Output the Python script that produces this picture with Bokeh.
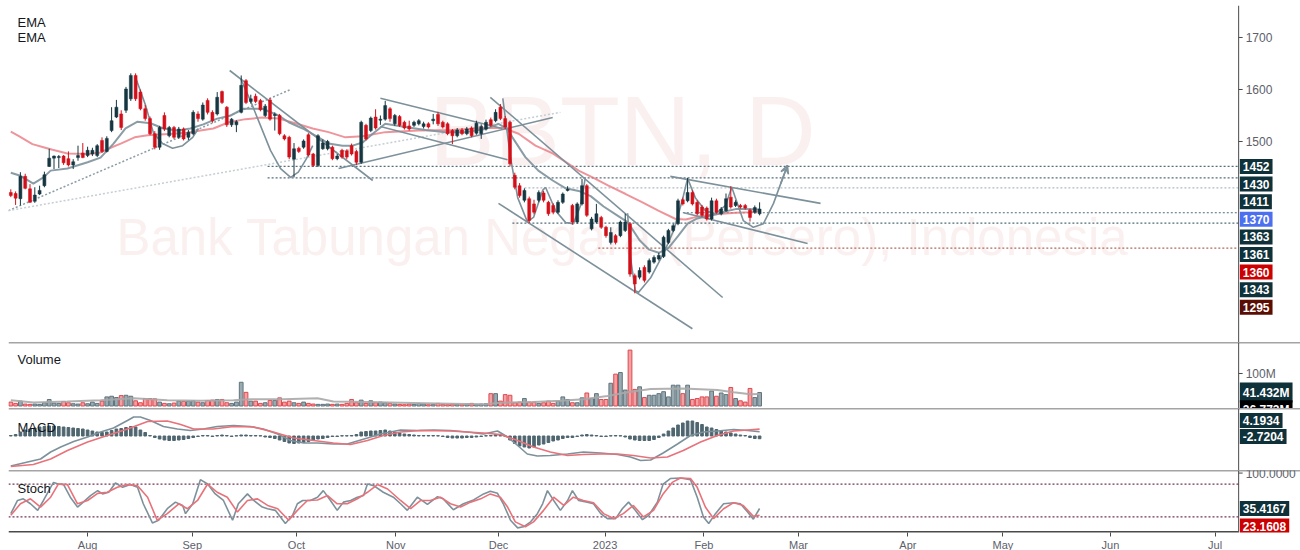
from bokeh.plotting import figure
from bokeh.models import Range1d, FixedTicker, Label, Span, Arrow, VeeHead, ColumnDataSource
from bokeh.core.properties import value
from bokeh.layouts import column
from bokeh.embed import file_html
from bokeh.resources import INLINE

FONT = "Liberation Sans"

# ---------------- data (bar index = trading day) ----------------
opens = [1402, 1400, 1390, 1433, 1409, 1385, 1399, 1415, 1452, 1468,
         1469, 1472, 1467, 1455, 1469, 1478, 1473, 1476, 1473, 1502,
         1481, 1521, 1547, 1553, 1560, 1582, 1627, 1595, 1563, 1544,
         1515, 1489, 1550, 1511, 1527, 1508, 1524, 1508, 1515, 1553,
         1543, 1579, 1556, 1553, 1596, 1566, 1532, 1532, 1556, 1617,
         1577, 1587, 1579, 1550, 1580, 1550, 1550, 1511, 1508, 1466,
         1487, 1489, 1513, 1476, 1454, 1486, 1486, 1489, 1467, 1483,
         1482, 1492, 1481, 1460, 1531, 1521, 1547, 1541, 1543, 1563,
         1534, 1548, 1537, 1530, 1531, 1534, 1529, 1534, 1540, 1552,
         1537, 1534, 1521, 1511, 1522, 1515, 1526, 1516, 1515, 1524,
         1542, 1540, 1566, 1544, 1537, 1435, 1415, 1387, 1390, 1380,
         1387, 1401, 1383, 1377, 1364, 1383, 1406, 1377, 1345, 1380,
         1415, 1332, 1345, 1354, 1335, 1306, 1319, 1319, 1329, 1342,
         1242, 1239, 1258, 1249, 1268, 1274, 1279, 1306, 1329, 1342,
         1388, 1386, 1402, 1383, 1374, 1372, 1351, 1386, 1361, 1367,
         1393, 1377, 1377, 1377, 1368, 1364, 1361]
highs = [1408, 1404, 1441, 1438, 1418, 1412, 1415, 1442, 1486, 1473,
         1474, 1474, 1481, 1466, 1492, 1497, 1490, 1488, 1495, 1508,
         1510, 1566, 1580, 1560, 1605, 1631, 1631, 1600, 1570, 1548,
         1520, 1530, 1556, 1530, 1530, 1528, 1527, 1522, 1560, 1558,
         1575, 1583, 1560, 1595, 1598, 1568, 1545, 1541, 1627, 1620,
         1590, 1592, 1582, 1572, 1584, 1556, 1553, 1514, 1511, 1497,
         1490, 1504, 1516, 1478, 1514, 1504, 1503, 1492, 1476, 1486,
         1485, 1496, 1484, 1540, 1534, 1548, 1562, 1550, 1578, 1566,
         1553, 1551, 1540, 1540, 1540, 1543, 1538, 1537, 1553, 1557,
         1540, 1537, 1524, 1526, 1526, 1528, 1529, 1540, 1533, 1542,
         1546, 1562, 1572, 1549, 1540, 1440, 1420, 1410, 1394, 1388,
         1406, 1405, 1386, 1381, 1387, 1402, 1414, 1380, 1383, 1428,
         1418, 1355, 1380, 1357, 1338, 1335, 1322, 1348, 1361, 1345,
         1246, 1258, 1262, 1275, 1281, 1286, 1319, 1332, 1342, 1390,
         1392, 1430, 1406, 1387, 1378, 1375, 1392, 1390, 1374, 1400,
         1414, 1387, 1380, 1380, 1371, 1377, 1383]
lows = [1393, 1378, 1377, 1408, 1382, 1382, 1397, 1412, 1451, 1447,
        1449, 1455, 1452, 1447, 1463, 1468, 1470, 1472, 1470, 1478,
        1479, 1518, 1545, 1522, 1555, 1578, 1578, 1560, 1540, 1512,
        1485, 1484, 1520, 1508, 1505, 1505, 1502, 1503, 1512, 1538,
        1540, 1552, 1536, 1550, 1572, 1528, 1528, 1518, 1554, 1572,
        1573, 1574, 1558, 1547, 1540, 1521, 1512, 1502, 1466, 1431,
        1478, 1486, 1471, 1451, 1451, 1484, 1483, 1464, 1464, 1467,
        1466, 1473, 1455, 1457, 1502, 1518, 1523, 1532, 1540, 1538,
        1530, 1528, 1523, 1521, 1528, 1531, 1525, 1525, 1533, 1530,
        1525, 1512, 1495, 1508, 1512, 1512, 1508, 1513, 1505, 1521,
        1528, 1537, 1541, 1524, 1452, 1408, 1392, 1383, 1343, 1360,
        1383, 1383, 1357, 1360, 1361, 1380, 1404, 1340, 1342, 1377,
        1355, 1329, 1342, 1332, 1315, 1302, 1302, 1316, 1326, 1240,
        1208, 1235, 1229, 1246, 1265, 1271, 1276, 1303, 1326, 1339,
        1377, 1383, 1377, 1358, 1355, 1348, 1348, 1361, 1358, 1364,
        1371, 1374, 1371, 1369, 1346, 1361, 1358]
closes = [1396, 1391, 1433, 1410, 1383, 1397, 1406, 1436, 1468, 1472,
          1471, 1459, 1455, 1461, 1473, 1469, 1483, 1483, 1492, 1481,
          1506, 1540, 1566, 1527, 1601, 1627, 1582, 1563, 1544, 1515,
          1489, 1527, 1524, 1527, 1508, 1524, 1505, 1518, 1556, 1544,
          1570, 1556, 1540, 1585, 1575, 1532, 1543, 1538, 1608, 1575,
          1582, 1577, 1561, 1568, 1543, 1552, 1515, 1505, 1470, 1486,
          1481, 1501, 1474, 1454, 1511, 1497, 1500, 1467, 1472, 1470,
          1470, 1476, 1460, 1537, 1505, 1545, 1526, 1543, 1569, 1544,
          1550, 1531, 1526, 1524, 1537, 1540, 1534, 1528, 1543, 1534,
          1528, 1515, 1511, 1522, 1515, 1524, 1511, 1535, 1529, 1537,
          1531, 1556, 1544, 1528, 1457, 1412, 1396, 1406, 1348, 1364,
          1402, 1387, 1361, 1364, 1383, 1399, 1408, 1345, 1380, 1415,
          1358, 1351, 1361, 1335, 1319, 1325, 1306, 1345, 1345, 1245,
          1226, 1252, 1233, 1271, 1277, 1281, 1316, 1329, 1338, 1386,
          1380, 1402, 1380, 1361, 1358, 1351, 1386, 1364, 1370, 1390,
          1374, 1383, 1374, 1372, 1354, 1373, 1370]
volumes_m = [12, 8, 15, 6, 5, 6, 5, 10, 20, 9,
             8, 14, 10, 7, 6, 10, 7, 12, 8, 15,
             28, 30, 26, 32, 33, 30, 16, 10, 23, 23,
             22, 12, 8, 7, 9, 15, 14, 15, 16, 12,
             10, 17, 18, 20, 20, 10, 8, 12, 73, 42,
             15, 15, 8, 10, 17, 17, 25, 12, 15, 10,
             8, 12, 8, 6, 5, 5, 6, 5, 6, 5,
             8, 20, 10, 18, 8, 16, 10, 12, 10, 8,
             6, 5, 4, 6, 5, 8, 6, 4, 5, 8,
             5, 4, 6, 5, 4, 6, 8, 5, 6, 7,
             38, 38, 15, 35, 33, 10, 12, 23, 12, 12,
             8, 10, 15, 8, 15, 28, 20, 10, 10, 25,
             40, 23, 38, 20, 20, 70, 98, 103, 49, 172,
             51, 59, 26, 33, 33, 38, 44, 28, 64, 64,
             38, 64, 20, 23, 28, 28, 46, 30, 40, 35,
             57, 23, 16, 12, 54, 26, 41.432]
macd_hist = [0.5, 1.5, 4, 6, 7, 8, 9, 9.5, 10, 10,
             9.5, 9, 8.5, 8, 7.5, 7, 6, 5, 4, 3.5,
             4, 5.5, 7, 7.5, 8.5, 9.5, 9, 6, 3.5, 0.5,
             -1.5, -3, -4, -4.5, -4.5, -4, -3.5, -2.5, -1.5, -0.5,
             0.5, 0.5, -0.5, 0.5, 1, 0.5, -0.5, 0.3, 1, 1,
             0.5, 0.5, 0.3, -1, -1.5, -2.5, -4, -5.5, -7, -7.5,
             -7, -6.5, -5.5, -4.5, -3, -2.5, -1.5, -0.5, -0.5, 0.3,
             0.3, 0.5, 1.5, 4, 4.5, 5, 5, 5.5, 6, 5,
             4, 3, 2, 1.5, 1, 0.5, 0.5, 0.5, 0.5, 0.3,
             -0.5, -1.5, -2, -2, -2, -1.5, -1.5, -1, -0.5, 0.3,
             0.5, 1.5, 1.5, -0.3, -4, -7.5, -10, -11, -12, -11,
             -9, -8, -6.5, -5, -4, -2.5, -1.5, -1.5, -0.5, 1,
             1.5, 1, 0.5, -0.5, -0.5, 0.3, 0.5, 0.3, -1, -3,
             -4, -4.5, -4.5, -4.5, -3.5, -1.5, 2, 5, 8, 11,
             13, 15, 15, 13.5, 11.5, 9, 8, 6.5, 5, 4,
             3, 2, 1, 0.5, -1.5, -2.5, -2.7204]

ema_slow_x = [0, 1.6, 4.5, 6.8, 8.7, 11.8, 16.2, 18.7, 20.8, 22.9, 25.8, 28.5, 33.7, 36.8, 39.5, 42.2,
              45.4, 48.9, 52.4, 55.8, 59.3, 62.9, 66.2, 69.7, 73.3, 78, 84.9, 92, 98.9, 102.6, 105.8,
              109.3, 112.9, 116.2, 118.3, 121.2, 124.5, 128.1, 131.6, 134.9, 138.5, 140.6, 143.3,
              146.8, 151, 153.7, 156]
ema_slow_y = [1519, 1511, 1495, 1489, 1484, 1477, 1476, 1479, 1488, 1496, 1508, 1512, 1515, 1517, 1521, 1525,
              1537, 1543, 1546, 1544, 1535, 1525, 1518, 1508, 1510, 1518, 1521, 1522, 1526, 1526, 1515,
              1492, 1477, 1457, 1444, 1431, 1415, 1399, 1383, 1367, 1351, 1350, 1356,
              1360, 1363, 1364, 1366]
ema_fast_x = [0, 2, 4.7, 6.8, 8.3, 11.8, 16, 18.7, 21.4, 23.9, 26.4, 29.1, 31.8, 34.7, 37.4, 40.1, 43,
              45.8, 48.5, 50.6, 52.4, 55.8, 57.9, 60.8, 64.1, 66.2, 69.1, 71.2, 73.3, 75.4, 78, 82.2,
              86.4, 90.6, 94.7, 98.9, 101.6, 103.5, 104.5, 107.2, 109.9, 112.9, 115.6, 118.3, 120.8,
              123.5, 126, 128.5, 131, 133, 135, 137, 139, 141, 143, 145, 147, 149, 151, 153, 156]
ema_fast_y = [1440, 1434, 1419, 1431, 1444, 1448, 1460, 1469, 1496, 1525, 1538, 1535, 1525, 1521, 1525, 1533, 1544,
              1550, 1563, 1563, 1563, 1550, 1537, 1525, 1508, 1496, 1492, 1492, 1498, 1515, 1534, 1528,
              1522, 1518, 1518, 1524, 1534, 1524, 1508, 1470, 1444, 1425, 1410, 1405, 1395,
              1375, 1360, 1345, 1310, 1292, 1286, 1295, 1318, 1342, 1352, 1356, 1360, 1366, 1370, 1370, 1369]

vma_x = [0, 4.7, 11.8, 18.7, 25.6, 32.6, 39.5, 46.4, 49.9, 56.8, 63.9, 67.2, 74.3, 81.2, 91.6, 98.5, 102,
         108.9, 114.5, 119.3, 124.3, 128.5, 133.3, 140.1, 147.2, 150.6, 154.1, 156]
vma_y = [18, 11, 14, 18, 24, 18, 16, 18, 21, 21, 24, 14, 12, 10, 7, 5, 10,
         12, 16, 21, 31, 42, 52, 54, 49, 42, 36, 36.773]

macd_x = [0, 3.5, 6.2, 8.3, 10.4, 13.1, 16, 18.7, 21.4, 24.3, 25.6, 27, 29.1, 31.8, 34.7, 37.4, 40.1, 43,
          46.4, 49.9, 52.6, 55.6, 58.3, 61, 63.9, 67.2, 70.1, 72.2, 74.3, 77, 81.2, 84.7, 88.1, 91.6, 95.1,
          98.5, 101.4, 103.5, 105.6, 107.6, 109.7, 112.4, 116, 119.3, 122.9, 126.4, 129.1, 131.2, 133.3,
          135.9, 138.9, 141.6, 144.3, 147.2, 150.6, 153.5, 156]
macd_y = [-30, -26, -23, -16, -11, -5.5, -1, 4, 8, 15.5, 19, 19, 15.5, 9.5, 7, 5.5, 7, 9.5,
          10.5, 9.5, 7, 2, -4.5, -7, -7, -8, -8, -5, -2, 2, 6, 5.5, 6, 5.5, 4,
          2, 5, -1, -9.5, -18, -20, -19.5, -18, -16, -17, -18.5, -21, -24.5, -24,
          -17, -8, 0.5, 4, 5, 6.5, 5.5, 4.1934]
signal_x = [0, 4.7, 8.3, 11.8, 16, 20.1, 24.3, 28.5, 32.6, 35.4, 38.1, 42.2, 46.4, 50.6, 54.7, 58.9, 63.1,
            67.2, 70.8, 74.3, 77.6, 81.2, 85.4, 91.6, 98.5, 102, 105.6, 108.9, 112.4, 116, 119.3, 122.9,
            126.4, 129.7, 133.3, 136.8, 140.1, 143.7, 147.2, 150.6, 153.5, 156]
signal_y = [-30.5, -28.5, -23, -14.5, -6, 0.5, 7, 14.5, 15, 11.5, 7, 7, 9.5, 9, 4, -2, -4.5,
            -7, -8.5, -4.5, 0.5, 4, 5.5, 5, 3, 1.5, -4.5, -11, -16, -19.5, -18.5, -18,
            -18, -19.5, -22, -21, -14.5, -6, 0.5, 5, 6, 6.9]

stoch_k_x = [0, 1.4, 2.6, 4.1, 5.6, 6.8, 8.3, 8.9, 9.9, 11,
             12.4, 13.9, 15.1, 16.6, 18.1, 19.1, 20.4, 21.8, 23.3, 24.9,
             26.4, 27.6, 29.5, 30.8, 32.6, 34.3, 35.8, 36.4, 37.9, 39.5,
             41, 42.6, 44.3, 46.2, 47.4, 49.3, 50.6, 52.4, 53.5, 55.1,
             57.2, 58.7, 59.7, 60.8, 62.4, 63.9, 65.1, 66.6, 68, 69.3,
             70.8, 72.2, 73.5, 74.3, 75.6, 77.6, 79.7, 81.2, 82.6, 84.7,
             86.8, 88.9, 90.1, 92.2, 94.3, 96.4, 98.5, 99.9, 101.4, 102.6,
             104.1, 105.6, 106.8, 108.3, 109.7, 110.8, 111.8, 113.1, 114.5, 116,
             117, 118.3, 120.1, 121.4, 122.9, 124.3, 126, 127.4, 128.7, 130.1,
             131.6, 132.9, 134.7, 135.9, 137.4, 139.5, 141.6, 143, 144.3, 145.4,
             146.8, 148.5, 150.6, 152, 153.5, 154.7, 156]
stoch_k_y = [26, 50, 53, 44, 32, 50, 74, 83, 80, 79,
             56, 38, 47, 59, 68, 62, 65, 82, 74, 79,
             74, 44, 9, 14, 35, 47, 41, 26, 44, 88,
             80, 62, 50, 14, 44, 62, 50, 38, 35, 32,
             8, 23, 44, 50, 50, 56, 68, 50, 32, 47,
             50, 56, 59, 80, 77, 65, 56, 44, 32, 56,
             43, 57, 53, 33, 44, 51, 62, 67, 63, 44,
             14, 0, 2, 11, 26, 44, 68, 50, 32, 50,
             68, 50, 47, 44, 26, 17, 17, 35, 47, 32,
             15, 23, 47, 80, 90, 91, 88, 56, 20, 8,
             26, 44, 46, 44, 29, 16, 35.4167]
stoch_d_x = [0, 2, 4.1, 6.2, 8.3, 9.9, 11.8, 13.9, 16, 18.1,
             20.1, 22.2, 24.3, 26.4, 28.5, 30.5, 32.6, 35, 36.8, 38.9,
             41, 43, 45.1, 47.2, 49.3, 51.4, 53.5, 55.6, 57.9, 59.7,
             61.8, 63.9, 66, 68, 70.1, 72.2, 74.3, 76.4, 78.5, 81.2,
             83.3, 85.4, 87.4, 89.5, 91.6, 93.7, 95.8, 97.9, 99.9, 102,
             103.5, 105.1, 107.2, 108.9, 111, 113.1, 115.2, 117.2, 119.3, 121.4,
             123.5, 125.6, 127.6, 129.7, 131.8, 133.9, 135.9, 137.8, 139.5, 141.6,
             143, 144.7, 146.4, 148.5, 150.6, 152.6, 154.7, 156]
stoch_d_y = [23, 44, 53, 38, 56, 80, 79, 44, 50, 63,
             65, 74, 79, 77, 56, 14, 26, 44, 35, 50,
             80, 65, 56, 29, 50, 53, 41, 35, 14, 32,
             50, 51, 59, 44, 44, 53, 65, 79, 71, 50,
             35, 50, 50, 56, 44, 38, 47, 53, 62, 56,
             38, 11, 2, 11, 32, 56, 41, 56, 50, 46,
             26, 17, 26, 41, 20, 32, 62, 83, 91, 90,
             74, 38, 17, 35, 46, 41, 21, 23.1608]

trend_x0 = [45.6, 77.0, 68.3, 77.0, 99.9, 101.6, 137.4, 140.2]
trend_y0 = [1636.5, 1583, 1448, 1529, 1585, 1381, 1433, 1363]
trend_x1 = [75.4, 102.4, 112.9, 103.5, 148.3, 142.0, 168.7, 166.0]
trend_y1 = [1425, 1525, 1546, 1465, 1200, 1140, 1381, 1304]
dot_trend_x0 = [-0.5, -0.5]
dot_trend_y0 = [1367, 1367]
dot_trend_x1 = [58.3, 114.5]
dot_trend_y1 = [1600, 1556]

arc1_x = [26.0, 28.1, 29.7, 31.6, 33.7, 35.8, 37.9, 39.1]
arc1_y = [1623, 1569, 1517, 1496, 1487, 1492, 1508, 1525]
arc2_x = [47.9, 49.9, 52.0, 54.1, 56.2, 58.3, 59.9, 61.6, 62.9]
arc2_y = [1621, 1579, 1531, 1483, 1448, 1431, 1441, 1467, 1492]
arc3_x = [102.5, 104.1, 105.6, 107.6, 108.9, 110.8, 111.4]
arc3_y = [1583, 1469, 1392, 1346, 1354, 1406, 1412]
arc4_x = [111.4, 113.5, 115.6, 117.2, 118.7, 119.7]
arc4_y = [1412, 1367, 1344, 1342, 1377, 1431]
arc5_x = [128.5, 129.1, 130.1, 130.8, 133.3, 136.0, 138.1, 139.9, 141.0]
arc5_y = [1362, 1277, 1213, 1210, 1238, 1285, 1329, 1387, 1429]
arc6_x = [141.0, 142.6, 144.7, 146.8, 148.9, 150.2]
arc6_y = [1429, 1392, 1367, 1361, 1377, 1412]
arc7_x = [150.2, 152.6, 154.7, 156.8, 158.9, 160.4, 161.8]
arc7_y = [1412, 1348, 1335, 1342, 1381, 1419, 1454]

level_price = [1452, 1430, 1411, 1363, 1343, 1295]
level_start = [53.5, 53.5, 107, 140, 104.5, 122.4]

price_ticks = [1500, 1600, 1700]
price_labels = ["1452", "1430", "1411", "1370", "1363", "1361", "1360", "1343", "1295"]
price_label_vals = [1452, 1430, 1411, 1370, 1363, 1361, 1360, 1343, 1295]
volume_ticks = [100]
volume_tick_labels = ["100M"]
stoch_ticks = [100]
stoch_tick_labels = ["100.0000"]

month_pos = [16, 37.8, 59.5, 80.2, 101.6, 123.8, 144.4, 164.1, 186.9, 206.7, 229.1, 250.9]
month_names = ["Aug", "Sep", "Oct", "Nov", "Dec", "2023", "Feb", "Mar", "Apr", "May", "Jun", "Jul"]

# ---------------- styling / layout ----------------
UP = "#163741"
DN = "#d3101a"
GREY = "#7d919b"
REDL = "#e8727a"
AXC = "#4a4a4a"
DARKBOX = "#0f3139"
PX_PER_BAR = 4.8
X0 = -0.48
AX_X = 255.8           # price-scale line position (bar units)
FRAME_W = 1292

n = len(closes)
idx = list(range(n))
is_up = [c >= o for o, c in zip(opens, closes)]
src = ColumnDataSource(dict(
    x=idx, o=opens, h=highs, l=lows, c=closes,
    top=[max(o, c) for o, c in zip(opens, closes)],
    bot=[min(o, c) for o, c in zip(opens, closes)],
    col=[UP if u else DN for u in is_up],
    vol=volumes_m,
    vfill=["#9aaab1" if u else "#f2a1a4" for u in is_up],
    vline=["#5f737c" if u else "#e0484f" for u in is_up],
    hist=macd_hist,
))

xr = Range1d(X0, X0 + FRAME_W / PX_PER_BAR)


def make_fig(h, yr, top=0, xloc=None):
    p = figure(frame_width=FRAME_W, frame_height=h, x_range=xr, y_range=yr,
               y_axis_location=None, x_axis_location=xloc,
               toolbar_location=None, output_backend="svg",
               min_border=0, min_border_left=8, min_border_right=0,
               min_border_top=top, min_border_bottom=0,
               outline_line_color=None, background_fill_color="white",
               border_fill_color="white")
    p.grid.visible = False
    p.add_layout(Span(location=AX_X, dimension="height", line_color=AXC, line_width=1))
    return p


def scale_ticks(p, ticks, labels):
    p.segment(x0=[AX_X] * len(ticks), y0=ticks, x1=[AX_X + 4 / PX_PER_BAR] * len(ticks), y1=ticks,
              line_color=AXC, line_width=1)
    p.text(x=[AX_X + 7 / PX_PER_BAR] * len(ticks), y=ticks, text=labels,
           text_font=value(FONT), text_font_size="12px", text_color="#5d606b",
           text_baseline="middle", text_align="left")


def title(p, text, y):
    p.add_layout(Label(x=9, y=y, x_units="screen", y_units="screen", text=text,
                       text_font=FONT, text_font_size="13px", text_color="#131722",
                       text_baseline="middle"))


def box(p, y, text, bg):
    p.add_layout(Label(x=AX_X + 1.2 / PX_PER_BAR, y=y, x_units="data", y_units="data", text=text,
                       text_font=FONT, text_font_size="12px", text_font_style="bold",
                       text_color="white", text_baseline="middle", text_align="left",
                       background_fill_color=bg, padding=3))


def stacked(vals, gap):
    out = []
    for v in vals:
        out.append(v if not out else min(v, out[-1] - gap))
    return out


# ---------------- price panel ----------------
p1 = make_fig(337, Range1d(1113.5, 1761.5), top=5)

for txt, yy, fs in [("BBTN, D", 212, "98px"), ("Bank Tabungan Negara (Persero), Indonesia", 105, "51px")]:
    p1.add_layout(Label(x=614, y=yy, x_units="screen", y_units="screen", text=txt,
                        text_font=FONT, text_font_size=fs, text_color="#fbf0f0",
                        text_align="center", text_baseline="middle", level="underlay"))

lv_colors = ["#546e7a", "#546e7a", "#b0bec5", "#546e7a", "#546e7a", "#b36a5e"]
p1.segment(x0=level_start, y0=level_price, x1=[AX_X] * len(level_price), y1=level_price,
           line_color=lv_colors, line_width=1.2, line_dash="2 2")
p1.segment(x0=dot_trend_x0, y0=dot_trend_y0, x1=dot_trend_x1, y1=dot_trend_y1,
           line_color=["#8a9ca5", "#c5ced3"], line_width=1.5, line_dash="2 2")

p1.line(ema_slow_x, ema_slow_y, line_color=REDL, line_width=2, line_alpha=0.75)
p1.line(ema_fast_x, ema_fast_y, line_color=GREY, line_width=2, line_alpha=0.9)

p1.segment(x0=trend_x0, y0=trend_y0, x1=trend_x1, y1=trend_y1,
           line_color=GREY, line_width=1.6)
for ax_, ay_ in [(arc1_x, arc1_y), (arc2_x, arc2_y), (arc3_x, arc3_y), (arc4_x, arc4_y),
                 (arc5_x, arc5_y), (arc6_x, arc6_y), (arc7_x, arc7_y)]:
    p1.line(ax_, ay_, line_color=GREY, line_width=1.6, line_join="round")
p1.add_layout(Arrow(end=VeeHead(size=8, line_color=GREY, line_width=1.5, fill_color=None),
                    x_start=arc7_x[-2], y_start=arc7_y[-2], x_end=arc7_x[-1], y_end=arc7_y[-1],
                    line_color=GREY, line_width=1.6))

p1.segment("x", "l", "x", "h", source=src, line_color="col", line_width=1)
p1.vbar(x="x", width=0.62, top="top", bottom="bot", source=src,
        fill_color="col", line_color="col", line_width=0.5)

scale_ticks(p1, price_ticks, [str(t) for t in price_ticks])
title(p1, "EMA", 320)
title(p1, "EMA", 305)

pb = [DARKBOX, DARKBOX, DARKBOX, "#4c6ff0", DARKBOX, DARKBOX, "#cc0000", DARKBOX, "#5a0d02"]
for t, yv, bg in zip(price_labels, stacked(price_label_vals, 33.85), pb):
    box(p1, yv, t, bg)

# ---------------- volume panel ----------------
p2 = make_fig(66, Range1d(-7.7, 195.4))
p2.add_layout(Span(location=195.4, dimension="width", line_color=AXC, line_width=1.5))
p2.vbar(x="x", width=0.78, top="vol", bottom=0, source=src,
        fill_color="vfill", line_color="vline", line_width=1)
p2.line(vma_x, vma_y, line_color="#a9a9a9", line_width=2, line_alpha=0.9)
scale_ticks(p2, volume_ticks, volume_tick_labels)
title(p2, "Volume", 49)
vol_lab = ["41.432M", "36.773M"]
for t, yv, bg in zip(vol_lab, stacked([volumes_m[-1], vma_y[-1]], 54.2), [DARKBOX, "#000000"]):
    box(p2, yv, t, bg)

# ---------------- MACD panel ----------------
p3 = make_fig(62, Range1d(-34.5, 27.5))
p3.add_layout(Span(location=27.5, dimension="width", line_color=AXC, line_width=1.5))
p3.vbar(x="x", width=0.55, top="hist", bottom=0, source=src,
        fill_color="#4f6670", line_color="#4f6670")
p3.line(macd_x, macd_y, line_color=GREY, line_width=1.6)
p3.line(signal_x, signal_y, line_color=REDL, line_width=1.6)
title(p3, "MACD", 43)
macd_lab = ["4.1934", "-2.7204"]
macd_lab_pos = [15.5, -0.5]
for t, yv in zip(macd_lab, macd_lab_pos):
    box(p3, yv, t, DARKBOX)

# ---------------- Stoch panel ----------------
p4 = make_fig(62, Range1d(-8.4, 104.7), xloc="below")
p4.add_layout(Span(location=104.7, dimension="width", line_color=AXC, line_width=1.5))
for lvl in (80, 20):
    p4.segment(x0=[X0], y0=[lvl], x1=[AX_X], y1=[lvl], line_color="#74365a",
               line_width=1.2, line_dash="2 2")
p4.line(stoch_k_x, stoch_k_y, line_color=GREY, line_width=1.6)
p4.line(stoch_d_x, stoch_d_y, line_color=REDL, line_width=1.6)
p4.segment(x0=[X0], y0=[-8.4], x1=[AX_X], y1=[-8.4], line_color=AXC, line_width=3)
scale_ticks(p4, stoch_ticks, stoch_tick_labels)
title(p4, "Stoch", 44)
for t, yv, bg in zip(["35.4167", "23.1608"], stacked([stoch_k_y[-1], stoch_d_y[-1]], 32.0),
                     [DARKBOX, "#cc0000"]):
    box(p4, yv, t, bg)

xa = p4.xaxis[0]
xa.ticker = FixedTicker(ticks=month_pos)
xa.major_label_overrides = {k: v for k, v in zip(month_pos, month_names)}
xa.axis_line_color = None
xa.major_tick_line_color = AXC
xa.major_tick_out = 4
xa.major_tick_in = 0
xa.minor_tick_line_color = None
xa.major_label_text_color = "#5d606b"
xa.major_label_text_font = FONT
xa.major_label_text_font_size = "11px"
xa.major_label_standoff = 2

layout = column(p1, p2, p3, p4, spacing=0)
open("out.html", "w").write(file_html(layout, INLINE, title="BBTN"))
